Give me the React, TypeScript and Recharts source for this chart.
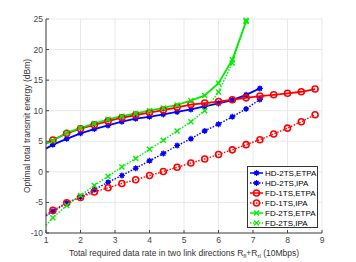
import { LineChart, Line, XAxis, YAxis, CartesianGrid } from 'recharts'

const rates = [1, 1.2, 1.6, 2.0, 2.4, 2.8, 3.2, 3.6, 4.0, 4.4, 4.8, 5.2, 5.6, 6.0, 6.4, 6.8, 7.2, 7.6, 8.0, 8.4, 8.8]

const hd2tsEtpa = [3.8, 4.45, 5.4, 6.3, 7.0, 7.6, 8.2, 8.7, 9.0, 9.4, 9.8, 10.2, 10.7, 11.2, 11.75, 12.6, 13.65]
const hd2tsIpa = [-7.2, -6.5, -5.1, -4.1, -2.9, -1.7, -0.6, 0.6, 1.8, 3.0, 4.3, 5.4, 6.7, 7.8, 9.0, 10.3, 11.85]
const fd1tsEtpa = [4.6, 5.2, 6.3, 7.05, 7.7, 8.3, 8.85, 9.3, 9.7, 10.1, 10.55, 11.0, 11.25, 11.5, 11.8, 12.1, 12.4, 12.6, 12.85, 13.1, 13.55]
const fd1tsIpa = [-7.0, -6.3, -5.05, -4.2, -3.3, -2.6, -1.9, -1.3, -0.6, 0.05, 0.75, 1.45, 2.1, 2.85, 3.6, 4.45, 5.25, 6.2, 7.15, 8.2, 9.35]
const fd2tsEtpa = [4.6, 5.1, 6.4, 7.2, 7.9, 8.6, 9.1, 9.55, 10.0, 10.45, 10.95, 11.65, 12.5, 14.5, 18.35, 24.6]
const fd2tsIpa = [-8.75, -7.5, -5.5, -3.85, -2.25, -0.7, 0.8, 2.2, 3.7, 5.15, 6.7, 8.2, 10.0, 13.05, 17.8, 24.8]

const xTicks = [1, 2, 3, 4, 5, 6, 7, 8, 9]
const yTicks = [-10, -5, 0, 5, 10, 15, 20, 25]

const FONT = '"Liberation Sans", Arial, sans-serif'
const BLUE = '#0000ff'
const RED = '#ff0000'
const GREEN = '#00ee00'

type Marker = 'star' | 'circle' | 'cross'

const series: { name: string; values: number[]; color: string; dashed: boolean; marker: Marker }[] = [
  { name: 'HD-2TS,ETPA', values: hd2tsEtpa, color: BLUE, dashed: false, marker: 'star' },
  { name: 'HD-2TS,IPA', values: hd2tsIpa, color: BLUE, dashed: true, marker: 'star' },
  { name: 'FD-1TS,ETPA', values: fd1tsEtpa, color: RED, dashed: false, marker: 'circle' },
  { name: 'FD-1TS,IPA', values: fd1tsIpa, color: RED, dashed: true, marker: 'circle' },
  { name: 'FD-2TS,ETPA', values: fd2tsEtpa, color: GREEN, dashed: false, marker: 'cross' },
  { name: 'FD-2TS,IPA', values: fd2tsIpa, color: GREEN, dashed: true, marker: 'cross' },
]

function drawMarker(kind: Marker, cx: number, cy: number, color: string, key?: string) {
  if (kind === 'star') {
    const r = 3
    const d = r * 0.7
    return (
      <g key={key}>
        <circle cx={cx} cy={cy} r={2.3} fill={color} />
        <path
          d={`M${cx - r},${cy}L${cx + r},${cy}M${cx},${cy - r}L${cx},${cy + r}M${cx - d},${cy - d}L${cx + d},${cy + d}M${cx - d},${cy + d}L${cx + d},${cy - d}`}
          stroke={color}
          strokeWidth={1.1}
        />
      </g>
    )
  }
  if (kind === 'circle') {
    return <circle key={key} cx={cx} cy={cy} r={3} fill="none" stroke={color} strokeWidth={1.6} />
  }
  const r = 2.5
  return (
    <path
      key={key}
      d={`M${cx - r},${cy - r}L${cx + r},${cy + r}M${cx - r},${cy + r}L${cx + r},${cy - r}`}
      stroke={color}
      strokeWidth={1.4}
    />
  )
}

function XLabel(props: any) {
  const vb = props.viewBox
  return (
    <text x={vb.x + vb.width / 2} y={vb.y + 23} textAnchor="middle" fontSize={8.5} fill="#333" fontFamily={FONT}>
      Total required data rate in two link directions R
      <tspan fontSize={6} dy={2}>fl</tspan>
      <tspan dy={-2}>+R</tspan>
      <tspan fontSize={6} dy={2}>rl</tspan>
      <tspan dy={-2}> (10Mbps)</tspan>
    </text>
  )
}

function YLabel(props: any) {
  const vb = props.viewBox
  const cx = 30
  const cy = vb.y + vb.height / 2
  return (
    <text x={cx} y={cy} transform={`rotate(-90 ${cx} ${cy})`} textAnchor="middle" fontSize={8.5} fill="#333" fontFamily={FONT}>
      Optimal total transmit energy (dBm)
    </text>
  )
}

function LegendBox() {
  return (
    <div
      style={{
        position: 'absolute',
        left: 247,
        top: 166,
        width: 71,
        height: 62,
        background: '#fff',
        border: '1px solid #333',
        paddingTop: 1,
        fontFamily: FONT,
        fontSize: 8,
        color: '#000',
        boxSizing: 'border-box',
      }}
    >
      {series.map((s) => (
        <div key={s.name} style={{ display: 'flex', alignItems: 'center', height: 10, whiteSpace: 'nowrap' }}>
          <svg width={16} height={10} style={{ flex: 'none', marginLeft: 1 }}>
            <line
              x1={1}
              x2={14}
              y1={5}
              y2={5}
              stroke={s.color}
              strokeWidth={1.5}
              strokeDasharray={s.dashed ? '1.5 1.5' : undefined}
            />
            {drawMarker(s.marker, 7.5, 5, s.color)}
          </svg>
          <span style={{ marginLeft: 0 }}>{s.name}</span>
        </div>
      ))}
    </div>
  )
}

export default function App() {
  return (
    <div style={{ position: 'absolute', left: 0, top: 0, width: 356, height: 262, background: '#fff' }}>
      <LineChart width={356} height={262} margin={{ top: 19, right: 34, left: 0, bottom: 0 }}>
        <CartesianGrid stroke="#e8e8e8" horizontalValues={yTicks} verticalValues={xTicks} />
        <XAxis
          dataKey="x"
          type="number"
          domain={[1, 9]}
          ticks={xTicks}
          allowDuplicatedCategory={false}
          height={29}
          tickSize={-3}
          tickMargin={7}
          stroke="#444"
          tick={{ fontSize: 8.5, fill: '#444', fontFamily: FONT }}
          label={<XLabel />}
        />
        <XAxis xAxisId="top" orientation="top" type="number" domain={[1, 9]} height={0} tick={false} stroke="#444" />
        <YAxis
          type="number"
          domain={[-10, 25]}
          ticks={yTicks}
          width={46}
          tickSize={-3}
          tickMargin={6}
          stroke="#444"
          tick={{ fontSize: 8.5, fill: '#444', fontFamily: FONT }}
          label={<YLabel />}
        />
        <YAxis yAxisId="right" orientation="right" type="number" domain={[-10, 25]} width={0} tick={false} stroke="#444" />
        {series.map((s) => (
          <Line
            key={s.name}
            name={s.name}
            data={s.values.map((v, i) => ({ x: rates[i], y: v }))}
            dataKey="y"
            type="linear"
            stroke={s.color}
            strokeWidth={s.dashed ? 1.4 : 1.8}
            strokeDasharray={s.dashed ? '1.5 1.5' : undefined}
            isAnimationActive={false}
            dot={(p: any) =>
              p.index === 0 ? <g key={`d${p.index}`} /> : drawMarker(s.marker, p.cx, p.cy, s.color, `d${p.index}`)
            }
            activeDot={false}
          />
        ))}
      </LineChart>
      <LegendBox />
    </div>
  )
}
